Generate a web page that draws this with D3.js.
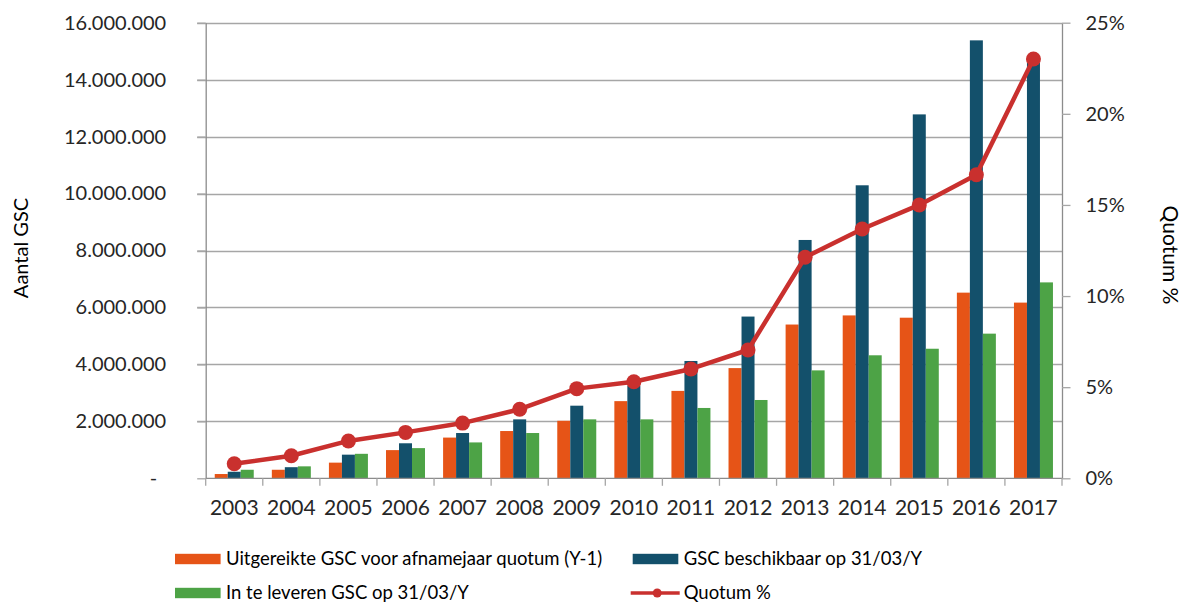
<!DOCTYPE html>
<html>
<head>
<meta charset="utf-8">
<script src="https://cdn.jsdelivr.net/npm/d3@7"></script>
<style>
  html, body { margin: 0; padding: 0; background: #fff; }
  svg { display: block; font-family: Lato, "Noto Sans", sans-serif; }
</style>
</head>
<body>
<svg id="chart" width="1183" height="602"></svg>
<script>
const years = ["2003","2004","2005","2006","2007","2008","2009","2010","2011","2012","2013","2014","2015","2016","2017"];
const uitgereikt = [150000, 300000, 550000, 990000, 1430000, 1660000, 2020000, 2710000, 3070000, 3870000, 5400000, 5720000, 5640000, 6520000, 6170000];
const beschikbaar = [230000, 390000, 830000, 1230000, 1590000, 2070000, 2550000, 3250000, 4120000, 5680000, 8370000, 10290000, 12780000, 15380000, 14600000];
const teLeveren = [300000, 420000, 860000, 1060000, 1260000, 1590000, 2070000, 2070000, 2470000, 2750000, 3790000, 4320000, 4550000, 5080000, 6880000];
const quotum = [0.0080, 0.0124, 0.0205, 0.0252, 0.0303, 0.0379, 0.0492, 0.0530, 0.0600, 0.0704, 0.1213, 0.1368, 0.1500, 0.1666, 0.2301];
const leftTicks = [0, 2000000, 4000000, 6000000, 8000000, 10000000, 12000000, 14000000, 16000000];
const rightTicks = [0, 0.05, 0.10, 0.15, 0.20, 0.25];
const seriesNames = ["Uitgereikte GSC voor afnamejaar quotum (Y-1)", "GSC beschikbaar op 31/03/Y", "In te leveren GSC op 31/03/Y", "Quotum %"];
const colors = ["#E65417", "#13506B", "#4DA346", "#C9302E"];

(function () {
const svg = d3.select("#chart");
const pL = 205.7, pR = 1062, pT = 22.7, pB = 478.3;

const x = d3.scaleBand().domain(years).range([pL, pR]).padding(0);
const y = d3.scaleLinear().domain([0, 16000000]).range([pB, pT]);
const y2 = d3.scaleLinear().domain([0, 0.25]).range([pB, pT]);
const keys = ["u", "b", "t"];
const xSub = d3.scaleBand().domain(keys).range([0, x.bandwidth()]).paddingInner(0).paddingOuter(0.696);

const fmtNL = v => v === 0 ? "-" : d3.format(",")(v).replace(/,/g, ".");

// gridlines
svg.append("g").selectAll("line").data(leftTicks.filter(d => d > 0)).join("line")
  .attr("x1", pL - 8.5).attr("x2", pR)
  .attr("y1", d => Math.round(y(d)) + 0.5).attr("y2", d => Math.round(y(d)) + 0.5)
  .attr("stroke", "#A6A6A6").attr("stroke-width", 1.3);

// left axis
const gL = svg.append("g").attr("transform", `translate(${pL},0)`)
  .call(d3.axisLeft(y).tickValues(leftTicks).tickSize(8.5).tickSizeOuter(0).tickFormat(fmtNL).tickPadding(31));
gL.select(".domain").attr("stroke", "#8C8C8C").attr("stroke-width", 1.3);
gL.selectAll(".tick line").attr("stroke", "#A6A6A6").attr("stroke-width", 1.3);
gL.selectAll(".tick text").attr("fill", "#262626").attr("font-size", 20).attr("font-family", "Lato");
gL.selectAll(".tick text").filter(d => d === 0).attr("dx", -9);

// right axis
const gR = svg.append("g").attr("transform", `translate(${pR},0)`)
  .call(d3.axisRight(y2).tickValues(rightTicks).tickSize(8.5).tickSizeOuter(0).tickFormat(d3.format(".0%")).tickPadding(15));
gR.select(".domain").attr("stroke", "#8C8C8C").attr("stroke-width", 1.3);
gR.selectAll(".tick line").attr("stroke", "#A6A6A6").attr("stroke-width", 1.3);
gR.selectAll(".tick text").attr("fill", "#262626").attr("font-size", 20).attr("font-family", "Lato");

// bars
const data = years.map((yr, i) => ({ yr, u: uitgereikt[i], b: beschikbaar[i], t: teLeveren[i], q: quotum[i] }));
const groups = svg.append("g").selectAll("g").data(data).join("g")
  .attr("transform", d => `translate(${x(d.yr)},0)`);
groups.selectAll("rect").data(d => keys.map((k, j) => ({ k, v: d[k], c: colors[j] }))).join("rect")
  .attr("x", d => xSub(d.k)).attr("width", xSub.bandwidth())
  .attr("y", d => y(d.v)).attr("height", d => pB - y(d.v))
  .attr("fill", d => d.c);

// bottom axis
const gB = svg.append("g").attr("transform", `translate(0,${pB})`);
gB.append("line").attr("x1", pL).attr("x2", pR).attr("y1", 0).attr("y2", 0)
  .attr("stroke", "#8C8C8C").attr("stroke-width", 1.3);
const bounds = years.map(d => x(d)).concat([pR]);
gB.selectAll("line.tk").data(bounds).join("line").attr("class", "tk")
  .attr("x1", d => d).attr("x2", d => d).attr("y1", 0).attr("y2", 7.5)
  .attr("stroke", "#A6A6A6").attr("stroke-width", 1.3);
gB.selectAll("text").data(years).join("text")
  .attr("x", d => x(d) + x.bandwidth() / 2).attr("y", 37)
  .attr("text-anchor", "middle").attr("font-size", 21).attr("fill", "#262626")
  .text(d => d);

// line
const line = d3.line().x(d => x(d.yr) + x.bandwidth() / 2).y(d => y2(d.q));
svg.append("path").datum(data).attr("d", line)
  .attr("fill", "none").attr("stroke", colors[3]).attr("stroke-width", 4.5).attr("stroke-linejoin", "round");
svg.append("g").selectAll("circle").data(data).join("circle")
  .attr("cx", d => x(d.yr) + x.bandwidth() / 2).attr("cy", d => y2(d.q)).attr("r", 7.5)
  .attr("fill", colors[3]);

// axis titles
svg.append("text").attr("transform", "translate(28,248) rotate(-90)")
  .attr("text-anchor", "middle").attr("font-size", 20).attr("fill", "#000").text("Aantal GSC");
svg.append("text").attr("transform", "translate(1163,255) rotate(90)")
  .attr("text-anchor", "middle").attr("font-size", 21).attr("fill", "#000").text("Quotum %");

// legend
const leg = [
  { i: 0, sx: 175, cy: 559 },
  { i: 1, sx: 632.7, cy: 559 },
  { i: 2, sx: 175, cy: 593 },
  { i: 3, sx: 632.7, cy: 593 }
];
const lg = svg.append("g");
leg.forEach(L => {
  if (L.i < 3) {
    lg.append("rect").attr("x", L.sx).attr("y", L.cy - 5.2).attr("width", 45.6).attr("height", 10.4).attr("fill", colors[L.i]);
  } else {
    lg.append("line").attr("x1", L.sx - 2).attr("x2", L.sx + 47).attr("y1", L.cy).attr("y2", L.cy)
      .attr("stroke", colors[3]).attr("stroke-width", 3.5);
    lg.append("circle").attr("cx", L.sx + 24.5).attr("cy", L.cy).attr("r", 4.5).attr("fill", colors[3]);
  }
  lg.append("text").attr("x", L.sx + 51).attr("y", L.cy).attr("dy", "0.35em")
    .attr("font-size", 18.5).attr("fill", "#000").text(seriesNames[L.i]);
});
})();
</script>
</body>
</html>
